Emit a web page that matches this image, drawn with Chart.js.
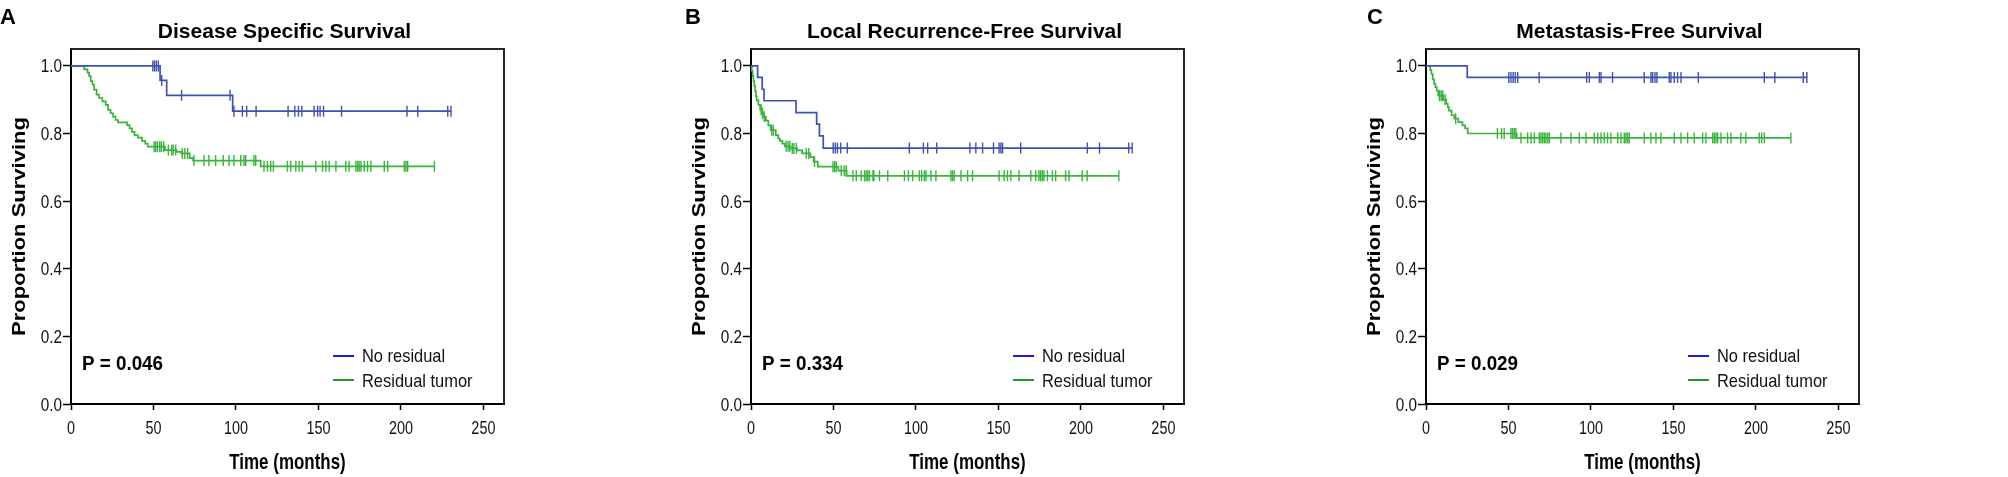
<!DOCTYPE html>
<html><head><meta charset="utf-8">
<script src="https://cdn.jsdelivr.net/npm/chart.js@4.4.1/dist/chart.umd.min.js"></script>
<style>
html,body{margin:0;padding:0;background:#fff;}
body{width:2008px;height:477px;overflow:hidden;position:relative;}
.panel{position:absolute;top:0;height:477px;}
canvas{display:block;}
</style></head><body>
<div class="panel" style="left:0px"><canvas id="cA" width="680" height="477"></canvas></div>
<div class="panel" style="left:680px"><canvas id="cB" width="675" height="477"></canvas></div>
<div class="panel" style="left:1355px"><canvas id="cC" width="653" height="477"></canvas></div>
<script>
// ---------- DATA ----------
const panelLetters = ['A', 'B', 'C'];
const panelTitles = ['Disease Specific Survival', 'Local Recurrence-Free Survival', 'Metastasis-Free Survival'];
const pValues = ['P = 0.046', 'P = 0.334', 'P = 0.029'];
const seriesNames = ['No residual', 'Residual tumor'];
const xAxisTitle = 'Time (months)';
const yAxisTitle = 'Proportion Surviving';
const xTicksStep = 50;
const yTicksStep = 0.2;

// Panel A – Disease specific survival
const A_noResTime = [0, 54, 58, 98];
const A_noResSurv = [1.0, 0.957, 0.913, 0.866];
const A_noResCens = [49.6, 50.6, 51.7, 52.9, 55, 67, 96.4, 98.8, 103.9, 106.5, 112.2, 131.6, 135.7, 137.9, 139.9, 147.4, 149.5, 151.0, 153.1, 164.0, 203.7, 210.2, 228.4, 230.4];
const A_resTime = [0, 8, 10, 11, 12, 13, 14, 15.5, 17, 19, 21, 22.5, 24, 25.5, 27, 28.5, 34, 35.5, 37, 38.5, 40.5, 43, 45, 46.5, 57, 64, 67, 72, 74, 115];
const A_resSurv = [1.0, 0.99, 0.98, 0.97, 0.955, 0.945, 0.93, 0.915, 0.905, 0.895, 0.885, 0.87, 0.86, 0.85, 0.84, 0.833, 0.825, 0.815, 0.805, 0.795, 0.788, 0.778, 0.77, 0.761, 0.751, 0.746, 0.741, 0.727, 0.72, 0.703];
const A_resCens = [50.4, 51.4, 52.4, 53.8, 54.8, 56.2, 59, 61, 62, 63.5, 67.5, 69, 70.7, 74.5, 80.6, 83.6, 87.7, 92.3, 95.8, 98.8, 102.9, 104.9, 105.9, 110.9, 112.0, 117.0, 119.1, 121.1, 122.7, 131.2, 133.2, 136.3, 138.3, 140.3, 148.4, 152.5, 154.5, 156.5, 160.6, 166.6, 168.6, 172.7, 173.8, 174.7, 175.8, 177.8, 179.8, 181.8, 189.9, 192.0, 202.1, 203.1, 204.1, 220.3];

// Panel B – Local recurrence-free survival
const B_noResTime = [0, 4, 6.8, 7.9, 27.3, 39.8, 41.5, 43.8];
const B_noResSurv = [1.0, 0.966, 0.931, 0.897, 0.862, 0.828, 0.793, 0.757];
const B_noResCens = [49.8, 51.1, 52.4, 54.4, 58.4, 96.0, 104.5, 107.1, 112.6, 132.7, 136.3, 140.4, 147.0, 150.4, 151.5, 152.5, 163.5, 203.9, 211.3, 229.0, 231.1];
const B_resTime = [0, 0.5, 1, 1.5, 2, 2.5, 3, 3.5, 4.5, 5.5, 6.5, 7.5, 9, 10.5, 12, 15, 16.5, 17.5, 19, 20.5, 24, 28, 31, 36, 38, 40.5, 53, 58];
const B_resSurv = [1.0, 0.985, 0.97, 0.955, 0.94, 0.925, 0.91, 0.898, 0.885, 0.87, 0.86, 0.85, 0.838, 0.824, 0.81, 0.795, 0.785, 0.778, 0.77, 0.762, 0.756, 0.75, 0.741, 0.73, 0.717, 0.702, 0.69, 0.675];
const B_resCens = [6.2, 7.0, 8.0, 12.6, 13.5, 21.3, 22.5, 23.5, 25, 26, 27.5, 33.5, 35, 38.5, 49.7, 50.7, 51.7, 54.7, 56.5, 57.7, 61.8, 63.8, 66.8, 68.8, 69.8, 70.8, 71.8, 73.9, 74.5, 77.9, 82.9, 93.0, 95.4, 98.0, 102.1, 103.5, 105.1, 106.1, 109.1, 112.1, 121.2, 122.2, 123.2, 127.3, 131.3, 134.3, 150.4, 153.5, 155.5, 157.5, 162.5, 169.6, 172.6, 174.6, 175.6, 176.6, 177.6, 179.7, 182.7, 184.7, 190.7, 192.8, 200.8, 203.8, 223.0];

// Panel C – Metastasis-free survival
const C_noResTime = [0, 25];
const C_noResSurv = [1.0, 0.966];
const C_noResCens = [50.2, 51.5, 52.8, 54.1, 55.6, 68.6, 97.4, 99.0, 105.1, 106.1, 113.1, 132.3, 136.4, 137.4, 138.8, 140.0, 147.5, 148.5, 150.5, 152.5, 154.6, 165.1, 205.1, 211.5, 228.7, 230.9];
const C_resTime = [0, 2.5, 3.3, 4.1, 4.9, 5.7, 6.5, 7.4, 10.5, 12.3, 13.2, 13.9, 15.5, 17.2, 19.6, 22.1, 23.7, 25.3, 55];
const C_resSurv = [1.0, 0.988, 0.976, 0.96, 0.947, 0.937, 0.927, 0.912, 0.90, 0.888, 0.878, 0.868, 0.854, 0.844, 0.834, 0.824, 0.815, 0.80, 0.787];
const C_resCens = [8.2, 9.2, 10.2, 11.6, 18.0, 43.3, 45.8, 47.4, 51.5, 52.5, 53.5, 54.5, 57.6, 61.6, 63.7, 65.7, 68.7, 69.7, 70.7, 71.7, 72.7, 73.8, 74.8, 81.8, 87.9, 92.9, 97.0, 102.0, 104.1, 106.1, 108.1, 110.1, 112.1, 116.2, 118.2, 120.2, 121.2, 122.2, 123.2, 132.3, 136.4, 139.4, 142.4, 150.5, 154.6, 158.6, 162.6, 167.7, 169.7, 173.8, 174.8, 175.8, 176.8, 178.8, 182.8, 184.9, 190.9, 193.9, 202.0, 203.5, 205.1, 221.2];

// ---------- STYLE ----------
const BLUE = '#3f52b3';
const GREEN = '#38b43c';
const LEG_BLUE = '#1c1ce6';
const LEG_GREEN = '#1f9c24';
const SANS = "'Liberation Sans', Arial, sans-serif";
const BOX_L = 71, BOX_R = 504, BOX_T = 49, BOX_B = 404;

function survAt(times, surv, t) {
  let s = surv[0];
  for (let i = 0; i < times.length; i++) { if (times[i] <= t) s = surv[i]; }
  return s;
}
function kmPoints(times, surv, cens) {
  const pts = times.map((t, i) => ({x: t, y: surv[i]}));
  const end = Math.max(...cens, times[times.length - 1]);
  pts.push({x: end, y: surv[surv.length - 1]});
  return pts;
}
function censPoints(times, surv, cens) {
  return cens.map(t => ({x: t, y: survAt(times, surv, t)}));
}
// text drawn with horizontal compression (the reference figure is squeezed horizontally)
function sText(ctx, txt, x, y, font, sx, align, color) {
  ctx.save();
  ctx.font = font;
  ctx.fillStyle = color || '#000';
  ctx.textAlign = align;
  ctx.textBaseline = 'alphabetic';
  ctx.translate(x, y);
  ctx.scale(sx, 1);
  ctx.fillText(txt, 0, 0);
  ctx.restore();
}

const overlay = {
  id: 'overlay',
  afterDraw(chart, args, opts) {
    const ctx = chart.ctx;
    const a = chart.chartArea;
    const xs = chart.scales.x, ys = chart.scales.y;
    ctx.save();
    ctx.strokeStyle = '#262626';
    ctx.lineWidth = 2;
    ctx.beginPath();
    ctx.moveTo(a.left, a.top); ctx.lineTo(a.right, a.top); ctx.lineTo(a.right, a.bottom);
    ctx.stroke();
    ctx.restore();
    // tick labels placed with the library's scales
    xs.ticks.forEach(t => {
      sText(ctx, String(t.value), xs.getPixelForValue(t.value), 434, '18px ' + SANS, 0.8, 'center', '#111');
    });
    ys.ticks.forEach(t => {
      sText(ctx, t.value.toFixed(1), 62, ys.getPixelForValue(t.value) + 6.5, '18px ' + SANS, 0.85, 'right', '#111');
    });
    // axis titles
    sText(ctx, xAxisTitle, (a.left + a.right) / 2, 469, 'bold 22px ' + SANS, 0.77, 'center');
    ctx.save();
    ctx.translate(20, (a.top + a.bottom) / 2);
    ctx.rotate(-Math.PI / 2);
    ctx.scale(1, 0.8);
    ctx.font = 'bold 22px ' + SANS;
    ctx.fillStyle = '#000';
    ctx.textAlign = 'center';
    ctx.textBaseline = 'middle';
    ctx.fillText(yAxisTitle, 0, 0);
    ctx.restore();
    // panel letter & title
    sText(ctx, opts.letter, opts.letterX, 24, 'bold 22px ' + SANS, 1, 'left');
    sText(ctx, opts.title, (a.left + a.right) / 2 - 3, 38, 'bold 21px ' + SANS, 1, 'center');
    // p value
    sText(ctx, opts.p, a.left + 11, 370, 'bold 21px ' + SANS, 0.895, 'left');
    // legend
    const lx = a.left + 262;
    ctx.save();
    ctx.lineWidth = 2;
    ctx.strokeStyle = LEG_BLUE;
    ctx.beginPath(); ctx.moveTo(lx, 356); ctx.lineTo(lx + 21, 356); ctx.stroke();
    ctx.strokeStyle = LEG_GREEN;
    ctx.beginPath(); ctx.moveTo(lx, 380); ctx.lineTo(lx + 21, 380); ctx.stroke();
    ctx.restore();
    sText(ctx, seriesNames[0], lx + 29, 362, '19px ' + SANS, 0.865, 'left', '#111');
    sText(ctx, seriesNames[1], lx + 29, 387, '19px ' + SANS, 0.865, 'left', '#111');
  }
};

function makePanel(id, idx, noT, noS, noC, reT, reS, reC, letterX) {
  const canvas = document.getElementById(id);
  const W = canvas.width;
  new Chart(canvas, {
    type: 'line',
    data: {
      datasets: [
        {label: seriesNames[0], data: kmPoints(noT, noS, noC), stepped: true, borderColor: BLUE, borderWidth: 1.7, pointRadius: 0, fill: false},
        {label: seriesNames[1], data: kmPoints(reT, reS, reC), stepped: true, borderColor: GREEN, borderWidth: 1.7, pointRadius: 0, fill: false},
        {type: 'scatter', label: 'cens1', data: censPoints(noT, noS, noC), pointStyle: 'line', pointRotation: 90, pointRadius: 5.5, borderColor: BLUE, borderWidth: 1.4, showLine: false},
        {type: 'scatter', label: 'cens2', data: censPoints(reT, reS, reC), pointStyle: 'line', pointRotation: 90, pointRadius: 5.5, borderColor: GREEN, borderWidth: 1.4, showLine: false}
      ]
    },
    options: {
      responsive: false, animation: false, devicePixelRatio: 1,
      events: [],
      layout: {padding: {left: 0, top: BOX_T, right: W - BOX_R, bottom: 0}},
      plugins: {
        legend: {display: false}, tooltip: {enabled: false}, title: {display: false},
        overlay: {letter: panelLetters[idx], title: panelTitles[idx], p: pValues[idx], letterX: letterX}
      },
      scales: {
        x: {
          type: 'linear', min: 0, max: 262.5,
          ticks: {stepSize: xTicksStep, includeBounds: false, display: false},
          grid: {drawOnChartArea: false, drawTicks: true, tickLength: 6, tickColor: '#000', tickWidth: 1.5},
          border: {display: true, color: '#000', width: 2},
          afterFit(s) { s.height = 477 - BOX_B; }
        },
        y: {
          type: 'linear', min: 0, max: 1.05,
          ticks: {stepSize: yTicksStep, includeBounds: false, display: false},
          grid: {drawOnChartArea: false, drawTicks: true, tickLength: 8, tickColor: '#000', tickWidth: 1.5},
          border: {display: true, color: '#000', width: 2},
          afterFit(s) { s.width = BOX_L; }
        }
      }
    },
    plugins: [overlay]
  });
}

makePanel('cA', 0, A_noResTime, A_noResSurv, A_noResCens, A_resTime, A_resSurv, A_resCens, 0);
makePanel('cB', 1, B_noResTime, B_noResSurv, B_noResCens, B_resTime, B_resSurv, B_resCens, 5);
makePanel('cC', 2, C_noResTime, C_noResSurv, C_noResCens, C_resTime, C_resSurv, C_resCens, 12);
</script>
</body></html>
